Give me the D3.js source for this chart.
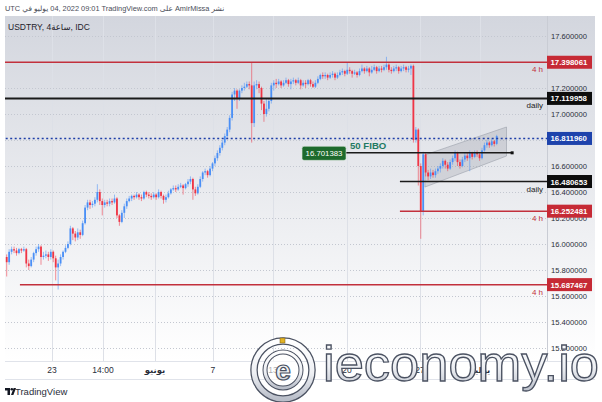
<!DOCTYPE html>
<html>
<head>
<meta charset="utf-8">
<script src="https://cdn.jsdelivr.net/npm/d3@7"></script>
<style>
body { margin: 0; background: #fff; }
text { font-family: "Liberation Sans", "DejaVu Sans", sans-serif; }
</style>
</head>
<body>
<div id="chart"></div>
<script>
// USDTRY 4h candles (index 0 = first candle on the left)
var opens = [
  15.90,15.86,15.94,15.96,15.95,15.93,15.96,15.95,15.96,15.85,
  15.83,15.88,15.93,15.96,15.98,15.90,15.91,15.92,15.90,15.94,
  15.89,15.82,15.85,15.90,15.94,15.97,16.00,16.12,16.08,16.05,
  16.09,16.07,16.16,16.28,16.32,16.30,16.31,16.34,16.40,16.33,
  16.30,16.32,16.31,16.33,16.32,16.35,16.22,16.17,16.24,16.29,
  16.33,16.35,16.37,16.36,16.38,16.36,16.35,16.40,16.38,16.37,
  16.36,16.38,16.36,16.40,16.37,16.34,16.36,16.39,16.42,16.43,
  16.42,16.44,16.45,16.43,16.46,16.48,16.50,16.42,16.39,16.44,
  16.50,16.55,16.56,16.53,16.58,16.62,16.66,16.70,16.74,16.78,
  16.83,16.88,16.97,17.15,17.18,17.12,17.18,17.20,17.21,17.23,
  17.22,16.93,17.22,17.23,17.20,17.08,17.00,17.04,17.10,17.22,
  17.24,17.23,17.25,17.22,17.24,17.26,17.23,17.25,17.26,17.24,
  17.26,17.22,17.24,17.23,17.26,17.23,17.21,17.24,17.27,17.30,
  17.29,17.30,17.28,17.30,17.31,17.28,17.30,17.32,17.33,17.31,
  17.34,17.33,17.31,17.32,17.30,17.33,17.35,17.33,17.35,17.32,
  17.34,17.36,17.33,17.35,17.34,17.36,17.38,17.34,17.33,17.35,
  17.36,17.33,17.35,17.36,17.34,17.35,17.37,16.80,16.88,16.60,
  16.25,16.69,16.55,16.52,16.55,16.53,16.56,16.58,16.60,16.64,
  16.61,16.58,16.63,16.66,16.70,16.63,16.60,16.65,16.68,16.66,
  16.70,16.67,16.70,16.69,16.66,16.72,16.76,16.78,16.76,16.79,
  16.77
];
var highs = [
  15.92,15.96,15.98,15.98,15.97,15.97,15.97,15.98,15.97,15.88,
  15.90,15.94,15.98,16.00,15.99,15.94,15.95,15.94,15.96,15.95,
  15.91,15.88,15.92,15.95,15.99,16.02,16.14,16.13,16.10,16.12,
  16.11,16.18,16.30,16.34,16.34,16.33,16.36,16.46,16.42,16.35,
  16.34,16.34,16.35,16.35,16.38,16.36,16.23,16.26,16.31,16.35,
  16.37,16.38,16.38,16.40,16.39,16.38,16.41,16.41,16.40,16.39,
  16.40,16.39,16.42,16.41,16.38,16.38,16.41,16.43,16.45,16.45,
  16.46,16.47,16.46,16.47,16.50,16.52,16.51,16.44,16.46,16.52,
  16.56,16.58,16.57,16.60,16.63,16.68,16.72,16.76,16.80,16.85,
  16.90,16.99,17.17,17.20,17.19,17.19,17.22,17.24,17.25,17.25,
  17.40,17.25,17.26,17.25,17.21,17.10,17.12,17.12,17.24,17.26,
  17.27,17.27,17.26,17.26,17.28,17.27,17.27,17.28,17.27,17.28,
  17.27,17.26,17.26,17.27,17.27,17.25,17.26,17.29,17.31,17.32,
  17.32,17.31,17.32,17.33,17.32,17.32,17.34,17.35,17.34,17.40,
  17.36,17.34,17.34,17.33,17.35,17.38,17.36,17.37,17.36,17.37,
  17.38,17.37,17.37,17.37,17.38,17.44,17.39,17.36,17.37,17.38,
  17.37,17.37,17.38,17.37,17.37,17.38,17.38,16.90,16.89,16.62,
  16.71,16.70,16.57,16.58,16.57,16.58,16.60,16.62,16.66,16.65,
  16.63,16.65,16.68,16.72,16.71,16.65,16.67,16.70,16.70,16.72,
  16.71,16.72,16.72,16.70,16.74,16.78,16.80,16.79,16.81,16.80,
  16.84
];
var lows = [
  15.75,15.84,15.92,15.93,15.91,15.92,15.93,15.94,15.82,15.80,
  15.82,15.86,15.91,15.94,15.84,15.88,15.89,15.87,15.88,15.86,
  15.72,15.65,15.83,15.88,15.93,15.96,15.99,16.03,16.02,16.03,
  16.04,16.06,16.15,16.26,16.27,16.28,16.29,16.32,16.30,16.22,
  16.28,16.29,16.29,16.30,16.31,16.20,16.14,16.16,16.20,16.27,
  16.32,16.33,16.34,16.35,16.34,16.33,16.34,16.36,16.35,16.34,
  16.35,16.34,16.35,16.35,16.31,16.32,16.35,16.38,16.41,16.40,
  16.41,16.43,16.38,16.42,16.44,16.46,16.34,16.37,16.38,16.43,
  16.48,16.53,16.51,16.52,16.56,16.60,16.64,16.68,16.72,16.76,
  16.81,16.86,16.95,17.10,17.04,17.10,17.16,17.18,17.20,17.19,
  16.78,16.90,17.19,17.16,17.03,16.94,16.98,17.02,17.08,17.18,
  17.20,17.22,17.20,17.21,17.23,17.21,17.19,17.23,17.22,17.23,
  17.19,17.21,17.20,17.22,17.21,17.20,17.20,17.23,17.26,17.27,
  17.27,17.26,17.27,17.28,17.26,17.27,17.29,17.30,17.29,17.30,
  17.31,17.28,17.30,17.28,17.29,17.32,17.31,17.32,17.29,17.31,
  17.33,17.31,17.32,17.32,17.33,17.34,17.32,17.31,17.32,17.33,
  17.31,17.32,17.33,17.32,17.32,17.30,16.78,16.78,16.45,16.04,
  16.22,16.52,16.49,16.50,16.51,16.51,16.54,16.55,16.58,16.58,
  16.56,16.57,16.61,16.64,16.60,16.58,16.59,16.63,16.64,16.56,
  16.65,16.66,16.67,16.64,16.65,16.71,16.74,16.74,16.75,16.75,
  16.76
];
var closes = [
  15.86,15.94,15.96,15.95,15.93,15.96,15.95,15.96,15.85,15.83,
  15.88,15.93,15.96,15.98,15.90,15.91,15.92,15.90,15.94,15.89,
  15.82,15.85,15.90,15.94,15.97,16.00,16.12,16.08,16.05,16.09,
  16.07,16.16,16.28,16.32,16.30,16.31,16.34,16.40,16.33,16.30,
  16.32,16.31,16.33,16.32,16.35,16.22,16.17,16.24,16.29,16.33,
  16.35,16.37,16.36,16.38,16.36,16.35,16.40,16.38,16.37,16.36,
  16.38,16.36,16.40,16.37,16.34,16.36,16.39,16.42,16.43,16.42,
  16.44,16.45,16.43,16.46,16.48,16.50,16.42,16.39,16.44,16.50,
  16.55,16.56,16.53,16.58,16.62,16.66,16.70,16.74,16.78,16.83,
  16.88,16.97,17.15,17.18,17.12,17.18,17.20,17.21,17.23,17.22,
  16.93,17.22,17.23,17.20,17.08,17.00,17.04,17.10,17.22,17.24,
  17.23,17.25,17.22,17.24,17.26,17.23,17.25,17.26,17.24,17.26,
  17.22,17.24,17.23,17.26,17.23,17.21,17.24,17.27,17.30,17.29,
  17.30,17.28,17.30,17.31,17.28,17.30,17.32,17.33,17.31,17.34,
  17.33,17.31,17.32,17.30,17.33,17.35,17.33,17.35,17.32,17.34,
  17.36,17.33,17.35,17.34,17.36,17.38,17.34,17.33,17.35,17.36,
  17.33,17.35,17.36,17.34,17.35,17.37,16.80,16.88,16.60,16.25,
  16.69,16.55,16.52,16.55,16.53,16.56,16.58,16.60,16.64,16.61,
  16.58,16.63,16.66,16.70,16.63,16.60,16.65,16.68,16.66,16.70,
  16.67,16.70,16.69,16.66,16.72,16.76,16.78,16.76,16.79,16.77,
  16.83
];

// time axis ticks (candle index) and labels
var timeTickIdx = [18.5, 39.3, 60.5, 84.2, 108.7, 138.9, 168.7, 193.2];
var timeTickLabels = ["23", "14:00", "يونيو", "7", "13", "20", "27", "يوليو"];
var priceTicks = [15.2, 15.4, 15.6, 15.8, 16.0, 16.2, 16.4, 16.6, 16.8, 17.0, 17.2, 17.4, 17.6];

// horizontal levels drawn on the chart
var levelValues = [17.398061, 17.119958, 16.811960, 16.480653, 16.252481, 15.687467];
var levelTags = ["4 h", "daily", "", "daily", "4 h", "4 h"];
var levelFromIdx = [0, 0, 0, 160.5, 160.5, 5.4];

// 50 fibo line and the rising channel
var fiboValue = 16.701383;
var fiboIdx = [138.5, 206.3];
var channelIdx = [170.7, 204];
var channelTop = [16.685, 16.90];
var channelBottom = [16.438, 16.677];

var W = 602, H = 402;
var pane = {left: 5, top: 16, right: 547, bottom: 361};

var svg = d3.select("#chart").append("svg")
  .attr("width", W).attr("height", H);

var defs = svg.append("defs");
var bg = defs.append("linearGradient").attr("id", "bg")
  .attr("x1", 0).attr("y1", 0).attr("x2", 0).attr("y2", 1);
bg.append("stop").attr("offset", "0%").attr("stop-color", "#d3d6de");
bg.append("stop").attr("offset", "100%").attr("stop-color", "#ffffff");
var wm = defs.append("linearGradient").attr("id", "wm")
  .attr("x1", 0).attr("y1", 0).attr("x2", 0).attr("y2", 1);
wm.append("stop").attr("offset", "0%").attr("stop-color", "#ffffff");
wm.append("stop").attr("offset", "55%").attr("stop-color", "#eef0f4");
wm.append("stop").attr("offset", "100%").attr("stop-color", "#b9bec9");
defs.append("clipPath").attr("id", "clip").append("rect")
  .attr("x", pane.left).attr("y", pane.top)
  .attr("width", pane.right - pane.left).attr("height", pane.bottom - pane.top);

// background of pane + price scale
svg.append("rect")
  .attr("x", pane.left).attr("y", pane.top)
  .attr("width", 595 - pane.left).attr("height", pane.bottom - pane.top)
  .attr("fill", "url(#bg)");

// scales
var x = d3.scaleLinear().domain([0, 200]).range([6.7, 496.7]);
var y = d3.scaleLinear().domain([15.2, 17.6]).range([348, 36]);

var plot = svg.append("g").attr("clip-path", "url(#clip)");

// grid
plot.selectAll(".hgrid").data(priceTicks).enter().append("line")
  .attr("x1", pane.left).attr("x2", pane.right)
  .attr("y1", function(d) { return Math.round(y(d)) + 0.5; })
  .attr("y2", function(d) { return Math.round(y(d)) + 0.5; })
  .attr("stroke", "#c3c7d0").attr("stroke-dasharray", "1,2");
plot.selectAll(".vgrid").data(timeTickIdx).enter().append("line")
  .attr("x1", function(d) { return Math.round(x(d)) + 0.5; })
  .attr("x2", function(d) { return Math.round(x(d)) + 0.5; })
  .attr("y1", pane.top).attr("y2", pane.bottom)
  .attr("stroke", "#dde0e7");

// price scale separator
svg.append("line").attr("x1", pane.right + 0.5).attr("x2", pane.right + 0.5)
  .attr("y1", pane.top).attr("y2", pane.bottom).attr("stroke", "#c9ccd4");

// channel
var chPoly = [
  [x(channelIdx[0]), y(channelTop[0])], [x(channelIdx[1]), y(channelTop[1])],
  [x(channelIdx[1]), y(channelBottom[1])], [x(channelIdx[0]), y(channelBottom[0])]
];
plot.append("polygon")
  .attr("points", chPoly.map(function(p) { return p.join(","); }).join(" "))
  .attr("fill", "rgba(140,144,156,0.25)").attr("stroke", "rgba(150,154,165,0.55)");

// candles
var candles = d3.range(closes.length);
var upCol = "#4a8ff6", downCol = "#ef3546";
plot.selectAll(".wick").data(candles).enter().append("line")
  .attr("x1", function(i) { return x(i); })
  .attr("x2", function(i) { return x(i); })
  .attr("y1", function(i) { return y(highs[i]); })
  .attr("y2", function(i) { return y(lows[i]); })
  .attr("stroke", function(i) { return closes[i] >= opens[i] ? upCol : downCol; })
  .attr("stroke-opacity", 0.55).attr("stroke-width", 1);
plot.selectAll(".body").data(candles).enter().append("rect")
  .attr("x", function(i) { return x(i) - 0.9; })
  .attr("width", 1.8)
  .attr("y", function(i) { return y(Math.max(opens[i], closes[i])); })
  .attr("height", function(i) { return Math.max(1, Math.abs(y(opens[i]) - y(closes[i]))); })
  .attr("fill", function(i) { return closes[i] >= opens[i] ? upCol : downCol; });

// levels
var levelColors = ["#c2303c", "#1a1a1a", "#1f3fa8", "#1a1a1a", "#c2303c", "#c2303c"];
var levelBox = ["#c62a35", "#0d0d0d", "#1e43ac", "#0d0d0d", "#c62a35", "#c62a35"];
var levelDash = [null, null, "2,2.5", null, null, null];
var levelWidth = [1.5, 2, 1.6, 1.6, 1.5, 1.5];
levelValues.forEach(function(v, k) {
  plot.append("line")
    .attr("x1", x(levelFromIdx[k]) - (levelFromIdx[k] === 0 ? 10 : 0)).attr("x2", pane.right)
    .attr("y1", y(v)).attr("y2", y(v))
    .attr("stroke", levelColors[k]).attr("stroke-width", levelWidth[k])
    .attr("stroke-dasharray", levelDash[k]);
  if (levelTags[k]) {
    plot.append("text")
      .attr("x", pane.right - 4).attr("y", y(v) + 10)
      .attr("text-anchor", "end").attr("font-size", 8)
      .attr("fill", levelColors[k] === "#1a1a1a" ? "#222" : "#c2303c")
      .text(levelTags[k]);
  }
});

// fibo line and label
plot.append("line")
  .attr("x1", x(fiboIdx[0])).attr("x2", x(fiboIdx[1]))
  .attr("y1", y(fiboValue)).attr("y2", y(fiboValue))
  .attr("stroke", "#1a1a1a").attr("stroke-width", 1.6);
plot.append("rect")
  .attr("x", x(fiboIdx[1]) - 1.5).attr("y", y(fiboValue) - 1.5)
  .attr("width", 3).attr("height", 3).attr("fill", "#111");
plot.append("rect")
  .attr("x", x(fiboIdx[0]) - 44).attr("y", y(fiboValue) - 6.5)
  .attr("width", 44).attr("height", 14).attr("rx", 2)
  .attr("fill", "#1d6a2c").attr("stroke", "#d8e6da").attr("stroke-width", 0.6);
plot.append("text")
  .attr("x", x(fiboIdx[0]) - 22).attr("y", y(fiboValue) + 3.5)
  .attr("text-anchor", "middle").attr("font-size", 7.8).attr("fill", "#fff")
  .text(d3.format(".6f")(fiboValue));
plot.append("text")
  .attr("x", x(fiboIdx[0]) + 4).attr("y", y(fiboValue) - 3.5)
  .attr("font-size", 9.6).attr("font-weight", "bold").attr("fill", "#1f7a62")
  .text("50 FIBO");

// price axis
var axis = svg.append("g")
  .attr("transform", "translate(" + (pane.right + 2) + ",0)")
  .call(d3.axisRight(y).tickValues(priceTicks).tickSize(0).tickPadding(2)
    .tickFormat(d3.format(".6f")));
axis.select(".domain").remove();
axis.selectAll("text").attr("font-size", 7.6).attr("fill", "#2a2e39")
  .attr("font-family", "\"Liberation Sans\", sans-serif");

levelValues.forEach(function(v, k) {
  svg.append("rect")
    .attr("x", pane.right).attr("y", y(v) - 6.5)
    .attr("width", 45).attr("height", 13).attr("fill", levelBox[k]);
  svg.append("text")
    .attr("x", pane.right + 3.5).attr("y", y(v) + 3)
    .attr("font-size", 7.8).attr("font-weight", "bold").attr("fill", "#fff")
    .text(d3.format(".6f")(v));
});

// time axis row
svg.append("rect").attr("x", pane.left).attr("y", pane.bottom)
  .attr("width", 595 - pane.left).attr("height", 18).attr("fill", "#fff");
svg.append("line").attr("x1", pane.left).attr("x2", 595)
  .attr("y1", pane.bottom + 0.5).attr("y2", pane.bottom + 0.5).attr("stroke", "#e0e3ea");
svg.append("line").attr("x1", pane.left).attr("x2", 595)
  .attr("y1", 379.5).attr("y2", 379.5).attr("stroke", "#e0e3ea");
svg.selectAll(".tlab").data(timeTickIdx).enter().append("text")
  .attr("x", function(d) { return x(d); })
  .attr("y", 373)
  .attr("text-anchor", "middle").attr("font-size", 8.5).attr("fill", "#2a2e39")
  .attr("font-weight", function(d, i) { return /[0-9]/.test(timeTickLabels[i]) ? "normal" : "bold"; })
  .text(function(d, i) { return timeTickLabels[i]; });

// header lines, placed chunk by chunk so the mixed scripts keep the visual order
function chunks(list, x0, yy, size, color) {
  var cx = x0;
  list.forEach(function(s) {
    var t = svg.append("text").attr("x", cx).attr("y", yy)
      .attr("font-size", size).attr("fill", color)
      .attr("xml:space", "preserve").style("white-space", "pre")
      .text(s);
    cx += t.node().getComputedTextLength();
  });
}
chunks(["UTC ", "في ", "يوليو ", "04, 2022 09:01 TradingView.com ", "على ", "AmirMissa ", "نشر"],
  5, 11, 7.4, "#4a4e59");
chunks(["USDTRY, 4", "ساعة", ", IDC"], 8, 30, 8.5, "#1f222b");

// footer
var tv = svg.append("g").attr("transform", "translate(5,388)");
tv.append("path").attr("d", "M0,0h5v7h-2.5v-4.5h-2.5z").attr("fill", "#131722");
tv.append("circle").attr("cx", 6.8).attr("cy", 1.3).attr("r", 1.3).attr("fill", "#131722");
tv.append("path").attr("d", "M8.6,0h2.4l-2.6,7h-2.4z").attr("fill", "#131722");
svg.append("text").attr("x", 15).attr("y", 395).attr("font-size", 9.5)
  .attr("fill", "#2a2e39").text("TradingView");

// ieconomy.io watermark
var mark = svg.append("g");
mark.append("circle").attr("cx", 283).attr("cy", 370).attr("r", 29)
  .attr("fill", "none").attr("stroke", "#4b5262").attr("stroke-width", 7.5);
mark.append("circle").attr("cx", 283).attr("cy", 370).attr("r", 29)
  .attr("fill", "none").attr("stroke", "url(#wm)").attr("stroke-width", 5);
mark.append("circle").attr("cx", 283).attr("cy", 370).attr("r", 18)
  .attr("fill", "rgba(255,255,255,0.6)").attr("stroke", "#4b5262").attr("stroke-width", 5);
mark.append("circle").attr("cx", 283).attr("cy", 370).attr("r", 18)
  .attr("fill", "none").attr("stroke", "url(#wm)").attr("stroke-width", 3);
mark.append("text").attr("x", 283).attr("y", 380).attr("text-anchor", "middle")
  .attr("font-size", 28).attr("font-weight", "bold")
  .attr("fill", "url(#wm)").attr("stroke", "#4b5262").attr("stroke-width", 1.2).text("e");
mark.append("rect").attr("x", 280).attr("y", 338).attr("width", 5).attr("height", 5)
  .attr("fill", "#e2b323").attr("stroke", "#7a5a10").attr("stroke-width", 0.5);
mark.append("text").attr("x", 323).attr("y", 381)
  .attr("font-size", 50).attr("textLength", 276).attr("lengthAdjust", "spacingAndGlyphs")
  .attr("fill", "url(#wm)").attr("stroke", "#4b5262").attr("stroke-width", 1.3)
  .text("ieconomy.io");
</script>
</body>
</html>
